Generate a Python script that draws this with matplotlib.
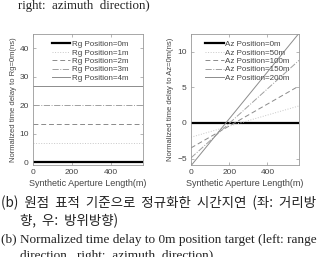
import numpy as np
import matplotlib
matplotlib.use("Agg")
import matplotlib.pyplot as plt

plt.rcParams['font.family'] = ['Liberation Sans', 'DejaVu Sans']

# synthetic aperture length range (m)
x_range = [0, 565]

# range direction: target positions and their constant delay (ns)
rg_labels = ['Rg Position=0m', 'Rg Position=1m', 'Rg Position=2m',
             'Rg Position=3m', 'Rg Position=4m']
rg_delay = [0.0, 6.67, 13.33, 20.0, 26.67]

# azimuth direction: delay at start / end of the aperture (ns)
az_labels = ['Az Position=0m', 'Az Position=50m', 'Az Position=100m',
             'Az Position=150m', 'Az Position=200m']
az_start = [0.0, -2.0, -3.5, -4.9, -6.0]
az_end = [0.0, 2.4, 5.2, 8.8, 12.6]

styles = [dict(color='black', lw=1.6, ls='-'),
          dict(color='#c8c8c8', lw=0.7, ls=':'),
          dict(color='#8a8a8a', lw=0.7, ls=(0, (5, 3))),
          dict(color='#a0a0a0', lw=0.7, ls='-.'),
          dict(color='#8c8c8c', lw=0.7, ls='-')]

W, H = 317, 257
fig = plt.figure(figsize=(W / 100, H / 100), dpi=100)

def style_axes(ax):
    for s in ax.spines.values():
        s.set_color('#999999')
        s.set_linewidth(0.6)
    ax.tick_params(direction='in', top=True, right=True, length=2, width=0.5,
                   color='#999999', labelsize=6, labelcolor='#444444', pad=3)

def add_legend(ax, x0):
    ax.legend(loc='upper left', bbox_to_anchor=(x0, 0.975), frameon=False, fontsize=5.8,
              handlelength=2.3, handletextpad=0.2, labelspacing=0.1, labelcolor='#444444',
              borderaxespad=0)

ax1 = fig.add_axes([33 / W, 1 - 165 / H, 110 / W, 131 / H])
for d, lab, st in zip(rg_delay, rg_labels, styles):
    ax1.plot(x_range, [d, d], label=lab, **st)
ax1.set_xlim(x_range)
ax1.set_ylim(-1, 45)
ax1.set_xticks([0, 200, 400])
ax1.set_yticks([0, 10, 20, 30, 40])
ax1.set_xlabel('Synthetic Aperture Length(m)', fontsize=6.5, color='#444444', labelpad=2)
ax1.set_ylabel('Normalized time delay to Rg=0m(ns)', fontsize=5.5, color='#444444', labelpad=2)
style_axes(ax1)
add_legend(ax1, 0.14)

ax2 = fig.add_axes([191 / W, 1 - 165 / H, 108 / W, 131 / H])
for a, b, lab, st in zip(az_start, az_end, az_labels, styles):
    ax2.plot(x_range, [a, b], label=lab, **st)
ax2.set_xlim(x_range)
ax2.set_ylim(-5.9, 12.5)
ax2.set_xticks([0, 200, 400])
ax2.set_yticks([-5, 0, 5, 10])
ax2.set_xlabel('Synthetic Aperture Length(m)', fontsize=6.5, color='#444444', labelpad=2)
ax2.set_ylabel('Normalized time delay to Az=0m(ns)', fontsize=5.5, color='#444444', labelpad=2)
style_axes(ax2)
add_legend(ax2, 0.1)

# caption text around the figure
serif = ['Liberation Serif', 'DejaVu Serif']
kr = ['Noto Sans CJK KR', 'DejaVu Sans']
fig.text(18 / W, 1 - 5.5 / H, 'right:  azimuth  direction)', family=serif, fontsize=9.3,
         va='center', color='#222222')
fig.text(1 / W, 1 - 203 / H, '(b)  원점  표적  기준으로  정규화한  시간지연  (좌:  거리방',
         family=kr, fontsize=9.7, va='center', color='#222222')
fig.text(20 / W, 1 - 221 / H, '향,  우:  방위방향)', family=kr, fontsize=9.7,
         va='center', color='#222222')
fig.text(1 / W, 1 - 240 / H, '(b) Normalized time delay to 0m position target (left: range',
         family=serif, fontsize=9.5, va='center', color='#222222')
fig.text(20 / W, 1 - 256 / H, 'direction,  right:  azimuth  direction)', family=serif,
         fontsize=9.5, va='center', color='#222222')

fig.savefig('out.png', dpi=100)
